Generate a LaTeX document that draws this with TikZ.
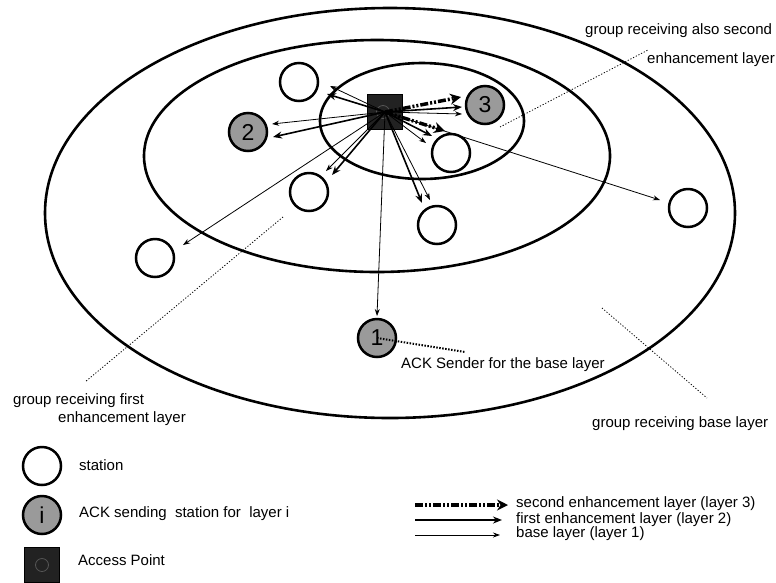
\documentclass[tikz,border=0pt]{standalone}
\usepackage{fontspec}
\setmainfont{Liberation Sans}
\usetikzlibrary{arrows.meta}
\definecolor{ackgray}{HTML}{9A9A9A}
\definecolor{apgray}{HTML}{222222}
\definecolor{apring}{HTML}{555555}
\begin{document}
\begin{tikzpicture}[x=1pt,y=-1pt,
  station/.style={circle,draw,line width=2.5pt,minimum size=38pt,inner sep=0pt},
  acker/.style={station,fill=ackgray,font=\fontsize{23}{23}\selectfont},
  apbox/.style={draw,fill=apgray,line width=1pt,minimum size=35pt,inner sep=0pt},
  apdot/.style={circle,draw=apring,line width=0.8pt,minimum size=13pt,inner sep=0pt},
  zone/.style={line width=2.6pt},
  baselyr/.style={line width=0.8pt,-{Stealth[length=7pt,width=5pt]}},
  firstlyr/.style={line width=1.6pt,-{Stealth[length=9pt,width=7pt]}},
  secondlyr/.style={line width=3.5pt,dash pattern=on 8pt off 2pt on 2pt off 2pt on 2pt off 2pt,-{Stealth[length=11pt,width=11pt]}},
  note/.style={line width=0.8pt,dash pattern=on 1.2pt off 1.8pt},
  acknote/.style={line width=2pt,dash pattern=on 1.5pt off 1.5pt},
  lbl/.style={anchor=base west,inner sep=0pt,font=\fontsize{15}{18}\selectfont},
]
\useasboundingbox (0,0) rectangle (776,582);

% zones
\draw[zone] (390,213) ellipse [x radius=345, y radius=205];
\draw[zone] (377,156) ellipse [x radius=233, y radius=116];
\draw[zone] (422,121) ellipse [x radius=102, y radius=58];

% stations
\node[station] (s1) at (299,82) {};
\node[acker] (g2) at (248,132) {2};
\node[acker] (g3) at (485,105) {3};
\node[station] (s4) at (451,153) {};
\node[station] (s5) at (309,192) {};
\node[station] (s6) at (437,225) {};
\node[station] (s7) at (155,258) {};
\node[station] (s8) at (688,208) {};
\node[acker] (g1) at (377,338) {1};

% access point
\node[apbox] (ap) at (385,112) {};
\node[apdot] (apc) at (383,112) {};

% arrow tips
\coordinate (t1a) at (330,86);
\coordinate (t1b) at (327,94);
\coordinate (t2a) at (272,124);
\coordinate (t2b) at (273,137);
\coordinate (t3c) at (461,97);
\coordinate (t3b) at (462,107);
\coordinate (t3a) at (462,114);
\coordinate (t4c) at (445,131);
\coordinate (t4b) at (432,136);
\coordinate (t4a) at (426,143);
\coordinate (t5a) at (326,171);
\coordinate (t5b) at (332,175);
\coordinate (t6b) at (422,203);
\coordinate (t6a) at (430,200);
\coordinate (t7a) at (183,245);
\coordinate (t8a) at (660,200);
\coordinate (tg1) at (377,316);

\draw[baselyr] (ap.center) -- (t1a);
\draw[firstlyr] (ap.center) -- (t1b);
\draw[baselyr] (ap.center) -- (t2a);
\draw[firstlyr] (ap.center) -- (t2b);
\draw[secondlyr] (ap.center) -- (t3c);
\draw[firstlyr] (ap.center) -- (t3b);
\draw[baselyr] (ap.center) -- (t3a);
\draw[secondlyr] (ap.center) -- (t4c);
\draw[firstlyr] (ap.center) -- (t4b);
\draw[baselyr] (ap.center) -- (t4a);
\draw[baselyr] (ap.center) -- (t5a);
\draw[firstlyr] (ap.center) -- (t5b);
\draw[firstlyr] (ap.center) -- (t6b);
\draw[baselyr] (ap.center) -- (t6a);
\draw[baselyr] (ap.center) -- (t7a);
\draw[baselyr] (ap.center) -- (t8a);
\draw[baselyr] (ap.center) -- (tg1);

% annotations
\node[lbl] (n3a) at (585,34) {group receiving also second};
\node[lbl] (n3b) at (647,63) {enhancement layer};
\coordinate (d3a) at (500,127);
\coordinate (d3b) at (648,50);
\draw[note] (d3a) -- (d3b);

\node[lbl] (n2a) at (13,404) {group receiving first};
\node[lbl] (n2b) at (58,422) {enhancement layer};
\coordinate (d2a) at (283,217);
\coordinate (d2b) at (85,382);
\draw[note] (d2a) -- (d2b);

\node[lbl] (n1) at (592,427) {group receiving base layer};
\coordinate (d1a) at (602,308);
\coordinate (d1b) at (707,398);
\draw[note] (d1a) -- (d1b);

\node[lbl] (nack) at (401,368) {ACK Sender for the base layer};
\coordinate (dack) at (465,352);
\draw[acknote] (g1.center) -- (dack);

% legend
\node[station] (ls) at (42,466) {};
\node[lbl] (lst) at (79,470) {station};
\node[acker] (lg) at (42,515) {i};
\node[lbl] (lgt) at (79,517) {ACK sending\ \ station for\ \ layer i};
\node[apbox] (lap) at (42,565) {};
\node[apdot] (lapc) at (42,565) {};
\node[lbl] (lapt) at (78,565) {Access Point};

\coordinate (la3s) at (415,505);
\coordinate (la3e) at (508,505);
\coordinate (la2s) at (415,520);
\coordinate (la2e) at (502,520);
\coordinate (la1s) at (415,535);
\coordinate (la1e) at (500,535);
\draw[secondlyr] (la3s) -- (la3e);
\draw[firstlyr] (la2s) -- (la2e);
\draw[baselyr] (la1s) -- (la1e);
\node[lbl] (l3t) at (516,507) {second enhancement layer (layer 3)};
\node[lbl] (l2t) at (516,523) {first enhancement layer (layer 2)};
\node[lbl] (l1t) at (516,537) {base layer (layer 1)};
\end{tikzpicture}
\end{document}
